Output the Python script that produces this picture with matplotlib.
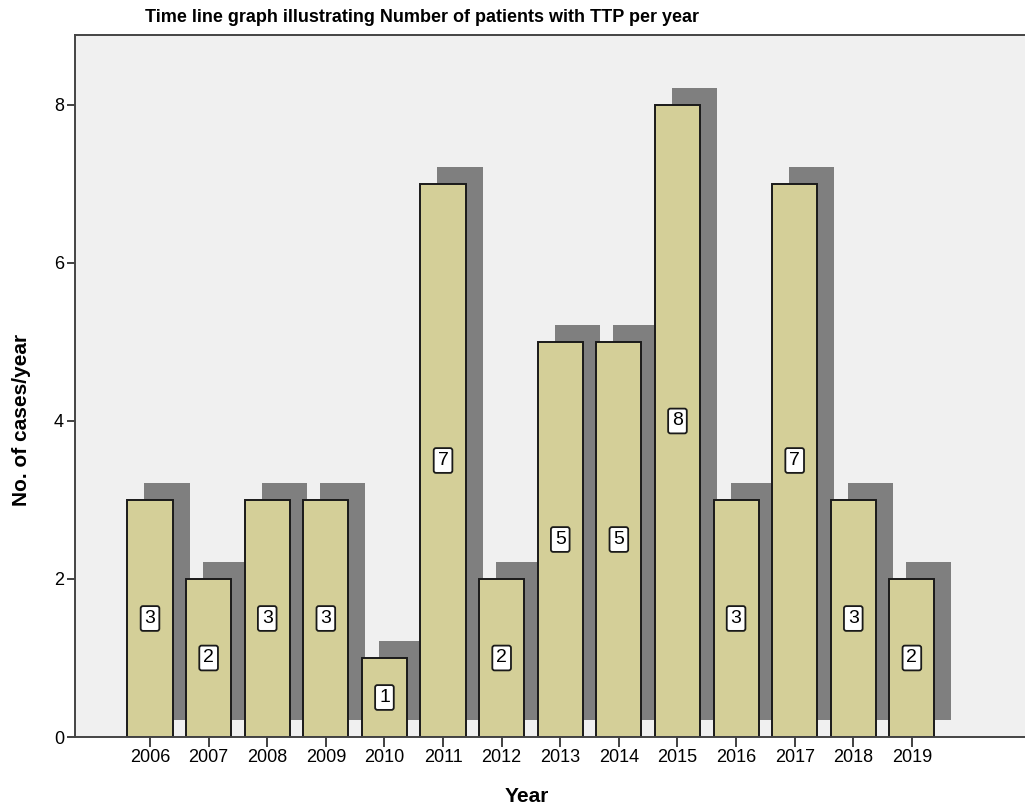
import matplotlib
matplotlib.use('Agg')
import matplotlib.pyplot as plt
import numpy as np

plt.rcParams['font.family'] = ['Liberation Sans', 'DejaVu Sans']

years = ['2006', '2007', '2008', '2009', '2010', '2011', '2012',
         '2013', '2014', '2015', '2016', '2017', '2018', '2019']
cases = [3, 2, 3, 3, 1, 7, 2, 5, 5, 8, 3, 7, 3, 2]

bar_color = '#d4cf98'
shadow_color = '#7f7f7f'
bg_color = '#f0f0f0'

fig = plt.figure(figsize=(10.25, 8.09), dpi=100)
ax = fig.add_axes([75/1025, 72/809, 1 - 75/1025, (737-35)/809])
ax.set_facecolor(bg_color)

x = np.arange(len(years))
w = 0.77
dx, dy = 0.29, 0.215

# drop shadow behind each bar
ax.bar(x + dx, cases, width=w, bottom=dy, color=shadow_color, lw=0, zorder=1)
ax.bar(x, cases, width=w, color=bar_color, edgecolor='#1a1a1a', lw=1.4, zorder=2)

for xi, v in zip(x, cases):
    ax.text(xi, v / 2, str(v), ha='center', va='center', fontsize=14, zorder=3,
            bbox=dict(boxstyle='round,pad=0.2,rounding_size=0.12', fc='white', ec='#1a1a1a', lw=1.3))

ax.set_xlim(-1.28, 14.93)
ax.set_ylim(0, 8.886)
ax.set_xticks(x)
ax.set_xticklabels(years)
ax.set_yticks([0, 2, 4, 6, 8])
ax.tick_params(axis='both', direction='out', length=6, width=1.3, color='#333333', labelsize=13, pad=2)
ax.tick_params(axis='x', length=7)

for s in ['left', 'top', 'bottom']:
    ax.spines[s].set_linewidth(1.4)
    ax.spines[s].set_color('#444444')
ax.spines['right'].set_visible(False)

fig.text(22/1025, 1 - 420/809, 'No. of cases/year', rotation=90, ha='center', va='center',
         fontsize=15, fontweight='bold')
fig.text(527/1025, 1 - 797/809, 'Year', ha='center', va='center', fontsize=15, fontweight='bold')
fig.text(145/1025, 1 - 18/809, 'Time line graph illustrating Number of patients with TTP per year',
         ha='left', va='center', fontsize=13, fontweight='bold')

fig.savefig('out.png', dpi=100, facecolor='white')
